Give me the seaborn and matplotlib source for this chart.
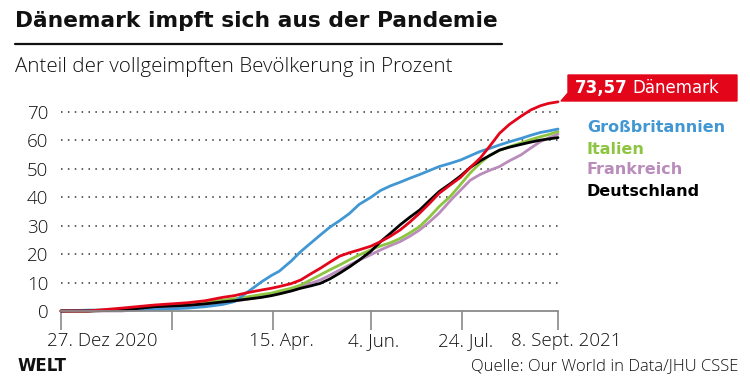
#share of fully vaccinated population, Denmark vs. others
import seaborn as sns
import matplotlib.pyplot as plt
import matplotlib.transforms as mtransforms
from matplotlib.patches import Polygon
from matplotlib.lines import Line2D
import pandas as pd

# days since 27 Dec 2020
days = [0, 14, 31, 48, 65, 74, 83, 89, 96, 103, 108, 112, 118, 123, 128, 133, 138, 143, 148, 153,
        159, 164, 169, 174, 179, 184, 189, 194, 200, 205, 210, 215, 220, 225, 230, 236, 241, 246,
        250, 255]

daenemark = [0, 0, 1.0, 2.1, 2.9, 3.6, 4.8, 5.4, 6.5, 7.4, 8.0, 8.6, 9.6, 10.9, 13.0, 15.0, 17.2,
             19.3, 20.5, 21.5, 22.8, 24.4, 26.3, 28.5, 31.3, 34.4, 37.8, 41.4, 44.5, 47.0, 50.5,
             53.7, 58.0, 62.5, 65.6, 68.5, 70.7, 72.2, 73.0, 73.57]
grossbritannien = [0, 0.3, 0.4, 0.5, 1.0, 1.5, 2.3, 3.3, 6.8, 10.3, 12.5, 14.0, 17.5, 20.9, 23.8,
                   26.7, 29.5, 31.8, 34.3, 37.5, 40.0, 42.4, 44.0, 45.3, 46.7, 48.0, 49.4, 50.8,
                   52.0, 53.1, 54.6, 56.1, 57.2, 58.4, 59.5, 60.7, 61.8, 62.8, 63.3, 64.0]
italien = [0, 0, 0.5, 1.8, 2.5, 3.0, 3.8, 4.3, 5.0, 5.8, 6.3, 7.0, 8.0, 9.1, 10.9, 12.7, 14.5,
           16.2, 18.0, 19.7, 21.5, 22.9, 24.0, 25.5, 27.5, 29.7, 33.0, 36.7, 40.5, 44.5, 48.6,
           52.0, 54.8, 56.5, 57.8, 59.1, 60.3, 61.3, 62.0, 63.1]
frankreich = [0, 0, 0, 0.8, 1.8, 2.3, 3.0, 3.5, 4.2, 5.0, 5.8, 6.5, 7.5, 8.6, 9.7, 10.9, 12.6,
              14.4, 16.2, 17.9, 19.8, 21.5, 23.0, 24.4, 26.3, 28.5, 31.3, 34.4, 39.0, 42.5, 46.0,
              48.0, 49.5, 50.8, 52.8, 54.9, 57.3, 59.6, 60.8, 62.2]
deutschland = [0, 0, 0.3, 1.5, 2.0, 2.5, 3.2, 3.6, 4.2, 4.8, 5.4, 6.0, 7.0, 8.0, 8.8, 9.7, 11.3,
               13.3, 15.5, 17.9, 21.0, 24.4, 27.3, 30.3, 33.0, 35.5, 38.8, 42.0, 44.9, 47.5, 50.5,
               52.8, 54.7, 56.6, 57.6, 58.6, 59.4, 60.1, 60.5, 61.0]

tick_days = [0, 57, 109, 159, 206, 255]
tick_labels = ['27. Dez 2020', '', '15. Apr.', '4. Jun.', '24. Jul.', '8. Sept. 2021']
y_ticks = [0, 10, 20, 30, 40, 50, 60, 70]

colors = {'Frankreich': '#b98cbb', 'Italien': '#8dc540', 'Großbritannien': '#4197d3',
          'Deutschland': '#000000', 'Dänemark': '#e3061b'}

series = {'Dänemark': daenemark, 'Großbritannien': grossbritannien, 'Italien': italien,
          'Frankreich': frankreich, 'Deutschland': deutschland}
df = pd.concat([pd.DataFrame({'tag': days, 'anteil': v, 'land': k}) for k, v in series.items()])

sns.set_style('white')
plt.rcParams['font.family'] = ['Open Sans', 'DejaVu Sans']
BOLD = ['DejaVu Sans']

fig = plt.figure(figsize=(7.5, 3.88), dpi=100)
ax = fig.add_axes([0.0813, 0.1985, 0.6627, 0.5495])

ax = sns.lineplot(data=df, x='tag', y='anteil', hue='land',
                  hue_order=['Frankreich', 'Italien', 'Großbritannien', 'Deutschland', 'Dänemark'],
                  palette=colors, linewidth=2.0, legend=False, ax=ax)
for ln in ax.lines:
    ln.set_clip_on(False)

ax.set_xlim(0, 255)
ax.set_ylim(0, 75)

# dotted grid lines
for y in y_ticks[1:]:
    ax.axhline(y, color='#333333', lw=1.1, ls=(0, (1, 3.5)), zorder=0)

for s in ['top', 'right', 'left']:
    ax.spines[s].set_visible(False)
ax.spines['bottom'].set_color('#8a8a8a')
ax.spines['bottom'].set_linewidth(1.3)

ax.set_yticks(y_ticks)
ax.set_yticklabels([str(t) for t in y_ticks], fontsize=13.5, fontweight='light', color='#111111')
ax.tick_params(axis='y', length=0, pad=9)

ax.set_xticks(tick_days)
ax.set_xticklabels(tick_labels, fontsize=13.5, fontweight='light', color='#111111')
ax.tick_params(axis='x', length=14, width=1.2, color='#8a8a8a', direction='out', pad=1,
               bottom=True)
offsets_px = [41, 0, 8, 3, 3, 8]
for lab, dx in zip(ax.get_xticklabels(), offsets_px):
    lab.set_transform(lab.get_transform() + mtransforms.ScaledTranslation(dx / 100, 0, fig.dpi_scale_trans))

ax.set_xlabel('')
ax.set_ylabel('')

px = lambda x, y: (x / 750, 1 - y / 388)

# title, rule, subtitle
fig.text(*px(15, 21), 'Dänemark impft sich aus der Pandemie', fontsize=15.7, family=BOLD,
         fontweight='bold', va='center', ha='left', color='#111111')
fig.add_artist(Line2D([15 / 750, 502 / 750], [1 - 44 / 388, 1 - 44 / 388], color='#111111', lw=1.6))
fig.text(*px(15, 67), 'Anteil der vollgeimpften Bevölkerung in Prozent', fontsize=14.8,
         fontweight='light', va='center', ha='left', color='#111111')

# red end label for Denmark
flag = Polygon([px(568, 75), px(737, 75), px(737, 101), px(561, 101), px(568, 93)],
               closed=True, transform=fig.transFigure, color='#e3061b', zorder=5)
fig.add_artist(flag)
fig.text(*px(575, 88), '73,57', fontsize=12, family=BOLD, fontweight='bold', color='white',
         va='center', ha='left', zorder=6)
fig.text(*px(632, 88), 'Dänemark', fontsize=12, family=BOLD, color='white', va='center',
         ha='left', zorder=6)

# legend labels
for name, y in [('Großbritannien', 127), ('Italien', 149), ('Frankreich', 170), ('Deutschland', 192)]:
    fig.text(*px(587, y), name, fontsize=11.5, family=BOLD, fontweight='bold', color=colors[name],
             va='center', ha='left')

# footer
fig.text(*px(17, 366), 'WELT', fontsize=12, family=BOLD, fontweight='heavy', va='center',
         ha='left', color='#111111')
fig.text(*px(738, 366), 'Quelle: Our World in Data/JHU CSSE', fontsize=12, fontweight='light',
         va='center', ha='right', color='#111111')

plt.savefig('out.png', dpi=100)
